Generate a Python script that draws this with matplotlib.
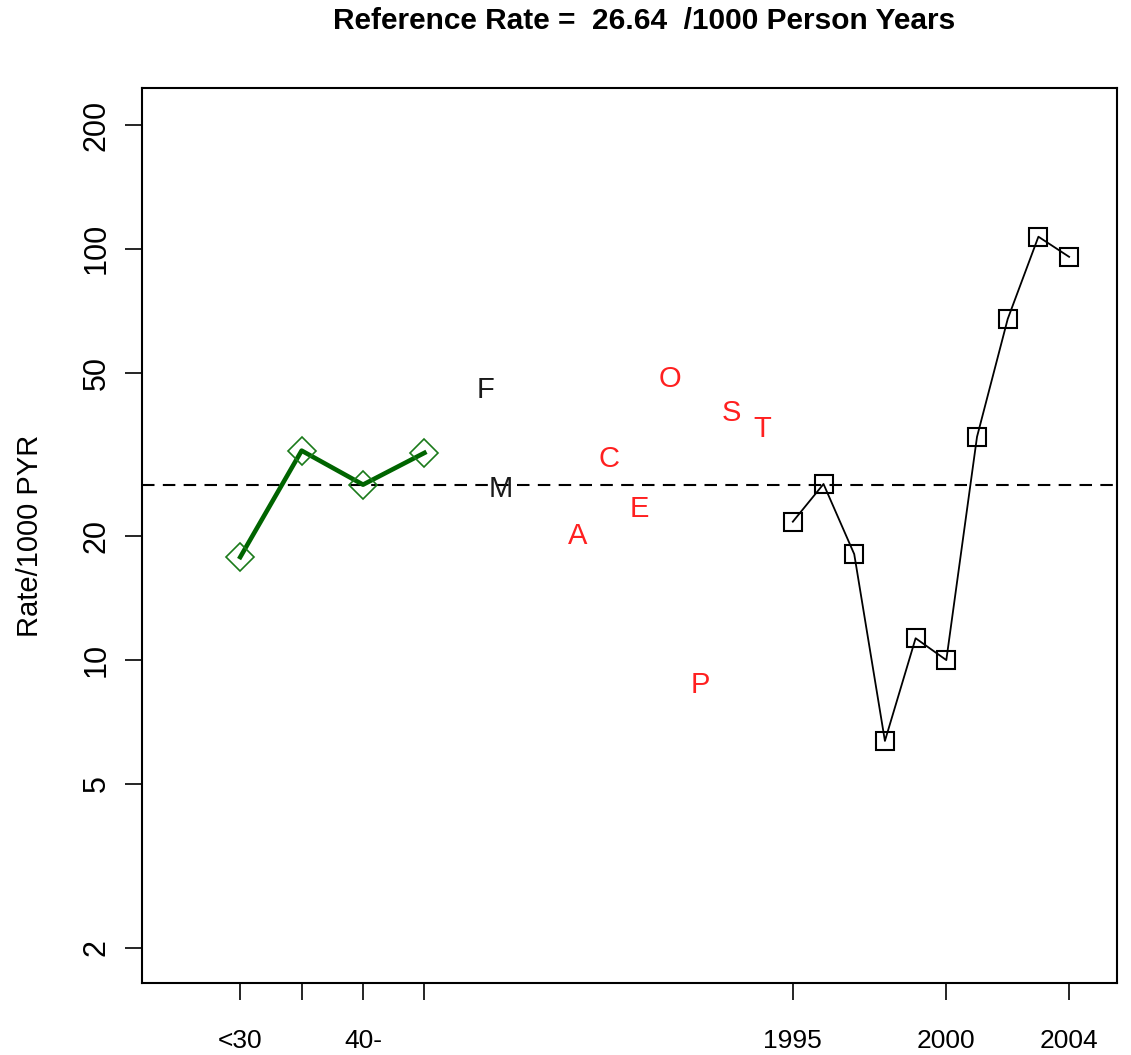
import numpy as np
import matplotlib
matplotlib.use("Agg")
from matplotlib import pyplot as plt

plt.rcParams['font.family'] = ['Liberation Sans', 'DejaVu Sans']

# age groups (green), plotted at positions 1,3,5,7
age_pos = [1, 3, 5, 7]
age_rate = [17.8, 32.3, 26.7, 31.9]

# calendar years (black squares)
years = [1995, 1996, 1997, 1998, 1999, 2000, 2001, 2002, 2003, 2004]
year_rate = [21.7, 26.8, 18.1, 6.36, 11.3, 10.0, 34.9, 67.5, 107.0, 95.6]
year_offset = 1976  # 1995 sits at position 19

# single-letter groups
sex_labels = ["F", "M"]
sex_pos = [9, 9.5]
sex_rate = [45.4, 26.1]

grp_labels = ["A", "C", "E", "O", "P", "S", "T"]
grp_pos = [12, 13, 14, 15, 16, 17, 18]
grp_rate = [20.0, 30.8, 23.3, 48.3, 8.7, 39.9, 36.5]

ref_rate = 26.64

xtick_pos = [1, 3, 5, 7, 19, 24, 28]
xtick_lab = ["<30", "", "40-", "", "1995", "2000", "2004"]
ytick_val = [2, 5, 10, 20, 50, 100, 200]

fig = plt.figure(figsize=(11.31, 10.55), dpi=100)
ax = fig.add_axes([142/1131, 72/1055, 975/1131, 895/1055])

ax.set_yscale("log")
ax.set_xlim(-2.2, 29.56)
ax.set_ylim(1.64, 246)

ax.axhline(ref_rate, color="black", lw=1.5, ls=(0, (6, 4)))

ax.plot(age_pos, age_rate, color="#006400", lw=3.3, marker="D", ms=14,
        mfc="none", mec="#1a7a1a", mew=1.2)

ypos = [y - year_offset for y in years]
ax.plot(ypos, year_rate, color="black", lw=1.3, marker="s", ms=13,
        mfc="none", mec="black", mew=1.5)

for lab, x, y in zip(sex_labels, sex_pos, sex_rate):
    ax.text(x, y, lab, color="#1a1a1a", fontsize=21, ha="center", va="center")
for lab, x, y in zip(grp_labels, grp_pos, grp_rate):
    ax.text(x, y, lab, color="#ff2020", fontsize=21, ha="center", va="center")

ax.set_yticks(ytick_val)
ax.set_yticklabels([str(v) for v in ytick_val], rotation=90, va="center", fontsize=22)
ax.yaxis.set_minor_locator(matplotlib.ticker.NullLocator())
ax.set_xticks(xtick_pos)
ax.set_xticklabels(xtick_lab, fontsize=19)
ax.tick_params(axis="both", length=12, width=1.2, direction="out")
ax.tick_params(axis="y", pad=10)
ax.tick_params(axis="x", pad=21)

for s in ax.spines.values():
    s.set_linewidth(1.5)

ax.set_ylabel("Rate/1000 PYR", fontsize=21, labelpad=27)

fig.text(644/1131, 1 - 21/1055, "Reference Rate =  26.64  /1000 Person Years",
         ha="center", va="center", fontsize=21.5, fontweight="bold")

fig.savefig("out.png", dpi=100)
